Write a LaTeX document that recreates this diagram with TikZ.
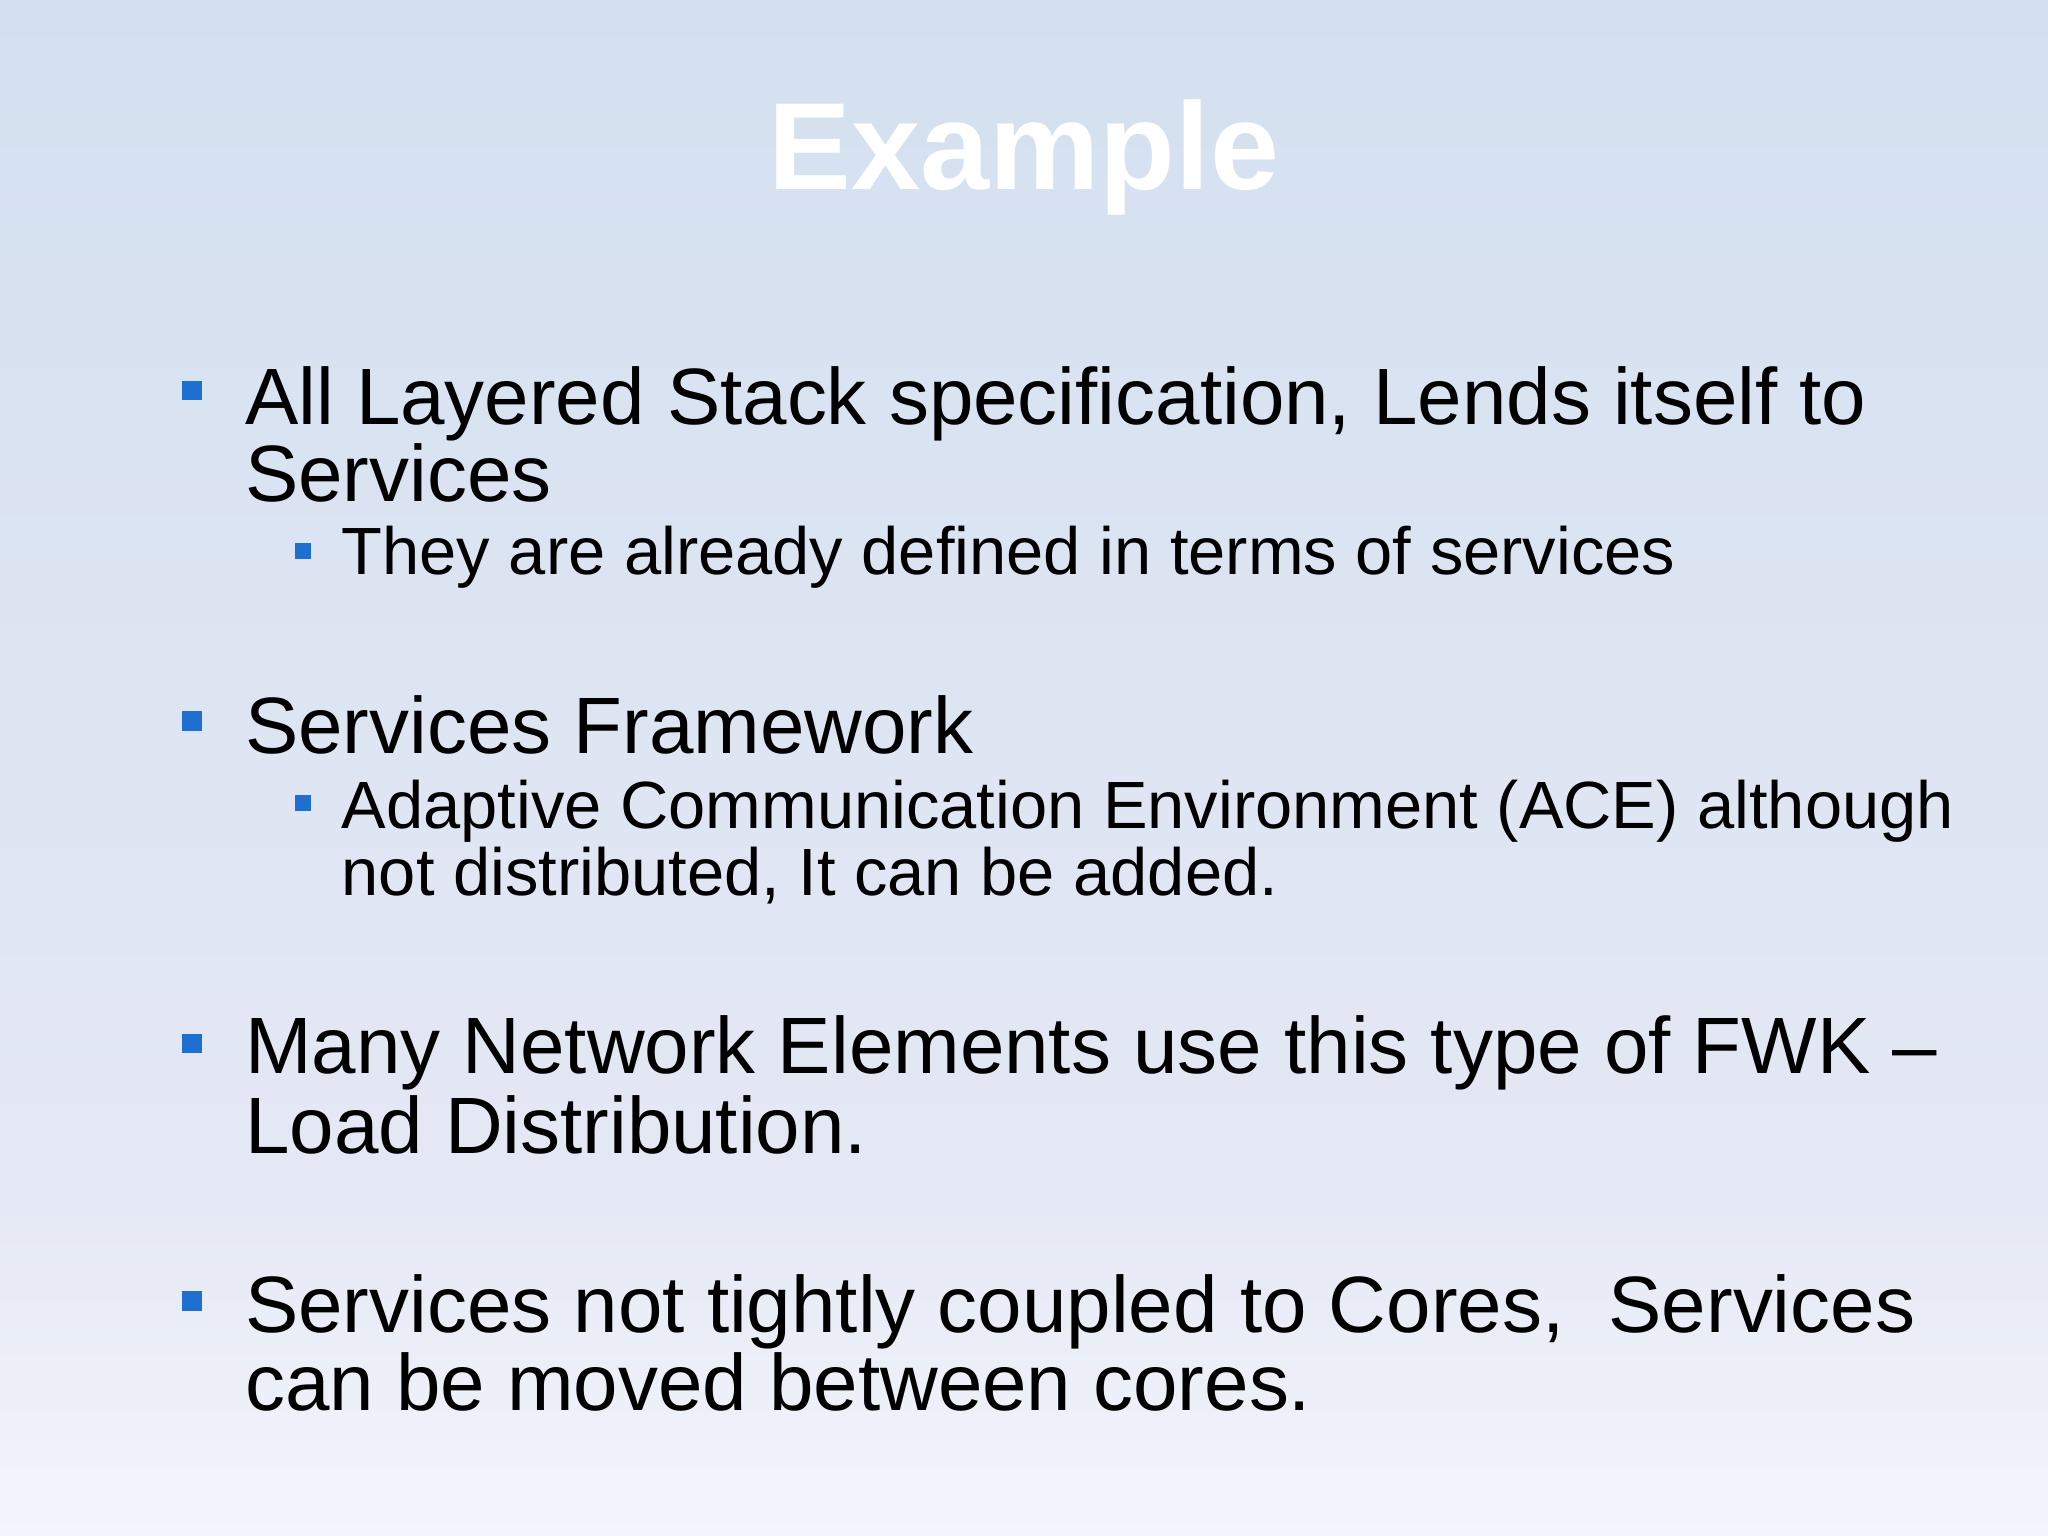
\documentclass[tikz,border=0pt]{standalone}
\usepackage{fontspec}
\setmainfont{Liberation Sans}
\definecolor{bgtop}{HTML}{D4E0F0}
\definecolor{bgmid}{HTML}{E4E8F4}
\definecolor{bgbot}{HTML}{F2F5FB}
\definecolor{bulletblue}{HTML}{1F6FD0}
\tikzset{
  mainline/.style={anchor=base west, inner sep=0pt, font=\fontsize{17.4}{20}\selectfont, text=black},
  subline/.style={anchor=base west, inner sep=0pt, font=\fontsize{14.55}{17}\selectfont, text=black},
  mainbullet/.style={fill=bulletblue, minimum size=1.5mm, inner sep=0pt},
  subbullet/.style={fill=bulletblue, minimum size=1.25mm, inner sep=0pt}
}
\begin{document}
\begin{tikzpicture}[x=0.01cm,y=-0.01cm]
% background
\shade[top color=bgtop, bottom color=bgmid] (0,0) rectangle (1568,900);
\shade[top color=bgmid, bottom color=bgbot] (0,900) rectangle (1568,1176);
\useasboundingbox (0,0) rectangle (1568,1176);

% title
\node[anchor=base, inner sep=0pt, text=white, font=\fontsize{27}{31}\selectfont\bfseries] (title) at (784,145) {Example};

% bullets
\node[mainbullet] (b1) at (147,299) {};
\node[mainline] (l1a) at (187,325) {All Layered Stack specification, Lends itself to};
\node[mainline] (l1b) at (187,384) {Services};
\node[subbullet] (s1) at (232,422) {};
\node[subline] (l1c) at (261,440) {They are already defined in terms of services};

\node[mainbullet] (b2) at (147,552) {};
\node[mainline] (l2a) at (187,577) {Services Framework};
\node[subbullet] (s2) at (232,615) {};
\node[subline] (l2b) at (261,634) {Adaptive Communication Environment (ACE) although};
\node[subline] (l2c) at (261,686) {not distributed, It can be added.};

\node[mainbullet] (b3) at (147,799) {};
\node[mainline] (l3a) at (187,822) {Many Network Elements use this type of FWK --};
\node[mainline] (l3b) at (187,883) {Load Distribution.};

\node[mainbullet] (b4) at (147,996) {};
\node[mainline] (l4a) at (187,1020) {Services not tightly coupled to Cores,\ \ Services};
\node[mainline] (l4b) at (187,1080) {can be moved between cores.};
\end{tikzpicture}
\end{document}
